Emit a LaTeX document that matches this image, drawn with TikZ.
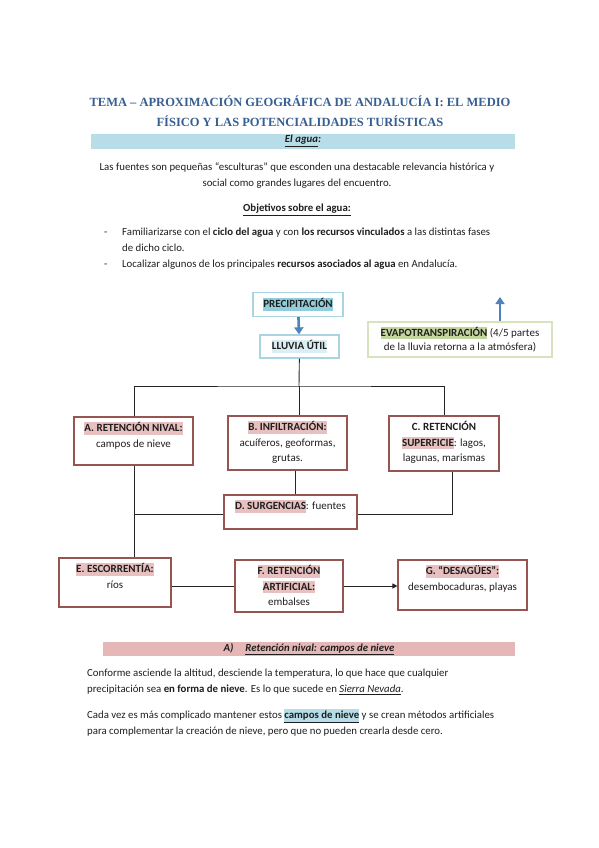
\documentclass[tikz,border=0pt]{standalone}
\usepackage{fontspec}
\setmainfont{Carlito}
\newfontfamily\titlefont{Liberation Serif}
\usetikzlibrary{positioning, arrows.meta}

\definecolor{titleblue}{RGB}{54,95,145}
\definecolor{bandblue}{RGB}{182,221,232}
\definecolor{bandpink}{RGB}{229,184,183}
\definecolor{hlteal}{RGB}{146,205,220}
\definecolor{hlpale}{RGB}{218,238,243}
\definecolor{hlgreen}{RGB}{194,214,155}
\definecolor{hlpink}{RGB}{232,192,191}
\definecolor{boxred}{RGB}{150,84,82}
\definecolor{blueedge}{RGB}{170,212,225}
\definecolor{greenedge}{RGB}{215,227,188}
\definecolor{arrowblue}{RGB}{79,129,189}
\definecolor{ink}{RGB}{30,30,30}

\newcommand{\marca}[2]{{\setlength{\fboxsep}{0pt}\colorbox{#1}{\vrule height 9.5pt depth 3pt width 0pt #2}}}

\tikzset{
  txt/.style={inner sep=0pt, text=ink, font=\fontsize{10.8}{16}\selectfont},
  boxtxt/.style={txt, align=center, font=\fontsize{11}{15.5}\selectfont},
  redbox/.style={draw=boxred, line width=1.1pt},
  bluebox/.style={draw=blueedge, line width=1.3pt, text=ink, font=\fontsize{11}{15}\selectfont},
  link/.style={line width=0.9pt, black!85},
  flecha/.style={arrowblue, line width=2.6pt, -{Triangle[length=7pt,width=9pt]}}
}

\begin{document}
\begin{tikzpicture}[x=1pt, y=-1pt]
      \useasboundingbox (0,0) rectangle (599,848);

      % 1. cabecera
      \node[txt, font=\titlefont\bfseries\fontsize{12.5}{19.5}\selectfont, text=titleblue, align=center, anchor=north] (titulo) at (300,93)
        {\strut TEMA – APROXIMACIÓN GEOGRÁFICA DE ANDALUCÍA I: EL MEDIO\\FÍSICO Y LAS POTENCIALIDADES TURÍSTICAS};
      \node[fill=bandblue, minimum width=424, minimum height=15, inner sep=0pt, text=ink, font=\fontsize{10.8}{12}\selectfont\bfseries\itshape] (banda) at (303,141) {\underline{El agua}:};

      % 2. texto de entrada
      \node[txt, align=center, anchor=north] (intro) at (297,159)
        {\strut Las fuentes son pequeñas “esculturas” que esconden una destacable relevancia histórica y\\social como grandes lugares del encuentro.};
      \node[txt, anchor=north, font=\fontsize{10.8}{16}\selectfont\bfseries] (objetivos) at (297,200.5) {\strut\underline{Objetivos sobre el agua:}};
      \node[txt, align=left, anchor=north west] (obj1) at (104,224.5)
        {\strut\makebox[18pt][l]{-}Familiarizarse con el \textbf{ciclo del agua} y con \textbf{los recursos vinculados} a las distintas fases\\\hspace*{18pt}de dicho ciclo.};
      \node[txt, anchor=north west] (obj2) at (104,256.5)
        {\strut\makebox[18pt][l]{-}Localizar algunos de los principales \textbf{recursos asociados al agua} en Andalucía.};

      % 3. cajas de arriba
      \node[bluebox, minimum width=90, minimum height=24] (precip) at (298,304.5) {\marca{hlteal}{\textbf{PRECIPITACIÓN}}};
      \node[bluebox, minimum width=79, minimum height=23] (lluvia) at (299.5,346.5) {\marca{hlpale}{\textbf{LLUVIA ÚTIL}}};
      \node[draw=greenedge, line width=1.1pt, minimum width=184, minimum height=35, align=center, text=ink,
        font=\fontsize{11}{14}\selectfont] (evapo) at (460,339.5)
        {\marca{hlgreen}{\textbf{EVAPOTRANSPIRACIÓN}} (4/5 partes\\de la lluvia retorna a la atmósfera)};
      \coordinate (evtop) at (500,297);
      \draw[flecha] (precip) -- (lluvia);
      \draw[flecha] (evapo.north -| evtop) -- (evtop);

      % 4. cajas A, B, C
      \node[redbox, minimum width=119, minimum height=48] (boxA) at (133.5,441) {};
      \node[boxtxt, below=4pt of boxA.north] (txtA) {\strut\marca{hlpink}{\textbf{A. RETENCIÓN NIVAL:}}\\campos de nieve};
      \node[redbox, minimum width=119, minimum height=54] (boxB) at (287.5,443) {};
      \node[boxtxt, below=4pt of boxB.north] (txtB) {\strut\marca{hlpink}{\textbf{B. INFILTRACIÓN:}}\\acuíferos, geoformas,\\grutas.};
      \node[redbox, minimum width=110, minimum height=55] (boxC) at (444,443.5) {};
      \node[boxtxt, below=4pt of boxC.north] (txtC) {\strut\textbf{C. RETENCIÓN}\\\marca{hlpink}{\textbf{SUPERFICIE}}: lagos,\\lagunas, marismas};

      % 5. cajas D a G
      \node[redbox, minimum width=133, minimum height=34] (boxD) at (290.5,512) {};
      \node[boxtxt, below=4pt of boxD.north] (txtD) {\strut\marca{hlpink}{\textbf{D. SURGENCIAS}}: fuentes};
      \node[redbox, minimum width=112, minimum height=49] (boxE) at (115,582.5) {};
      \node[boxtxt, below=4pt of boxE.north] (txtE) {\strut\marca{hlpink}{\textbf{E. ESCORRENTÍA:}}\\ríos};
      \node[redbox, minimum width=108, minimum height=52] (boxF) at (289,586) {};
      \node[boxtxt, below=4pt of boxF.north] (txtF) {\strut\marca{hlpink}{\textbf{F. RETENCIÓN}}\\\marca{hlpink}{\textbf{ARTIFICIAL:}}\\embalses};
      \node[redbox, minimum width=129, minimum height=50] (boxG) at (462.5,585) {};
      \node[boxtxt, below=4pt of boxG.north] (txtG) {\strut\marca{hlpink}{\textbf{G. “DESAGÜES”:}}\\desembocaduras, playas};

      % 6. conexiones
      \coordinate (split) at (299,386);
      \coordinate (jA) at (134,514);
      \coordinate (jC) at (452,514);
      \coordinate (jB) at (295,0);
      \draw[link] (lluvia) -- (split);
      \draw[link] (boxA.north -| jA) |- (split) -| (boxC.north);
      \draw[link] (split) -- (split |- boxB.north);
      \draw[link] (boxA.south -| jA) -- (boxE.north -| jA);
      \draw[link] (boxB.south -| jB) -- (boxD.north -| jB);
      \draw[link] (jA) -- (boxD.west |- jA);
      \draw[link] (boxD.east |- jC) -- (jC) -- (jC |- boxC.south);
      \draw[link] (boxE.east |- boxF.west) -- (boxF.west);
      \draw[link, -{Triangle[length=5pt,width=5pt]}] (boxF.east) -- (boxG.west |- boxF.east);

      % 7. apartado A
      \node[fill=bandpink, minimum width=412, minimum height=14, inner sep=0pt, text=ink, font=\fontsize{10.8}{12}\selectfont\bfseries\itshape] (bandaA) at (309,649)
        {A)\hspace{12pt}\underline{Retención nival: campos de nieve}};
      \node[txt, align=left, anchor=north west] (parr1) at (87,665.5)
        {\strut Conforme asciende la altitud, desciende la temperatura, lo que hace que cualquier\\precipitación sea \textbf{en forma de nieve}. Es lo que sucede en \textit{\underline{Sierra Nevada}}.};
      \node[txt, align=left, anchor=north west] (parr2) at (87,707.5)
        {\strut Cada vez es más complicado mantener estos \marca{bandblue}{\textbf{\underline{campos de nieve}}} y se crean métodos artificiales\\para complementar la creación de nieve, pero que no pueden crearla desde cero.};
\end{tikzpicture}
\end{document}
